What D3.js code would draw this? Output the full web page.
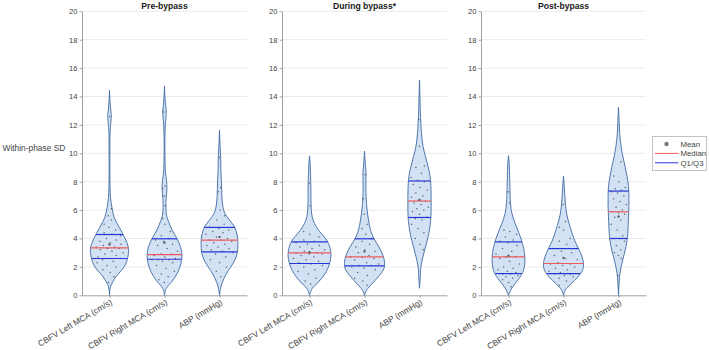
<!DOCTYPE html>
<html><head><meta charset="utf-8">
<script src="https://cdn.jsdelivr.net/npm/d3@7"></script>
<style>
body{margin:0;background:#fff}
svg{display:block}
text{font-family:"Liberation Sans",Arial,Helvetica,sans-serif}
</style>
</head><body>
<svg id="chart" width="709" height="350"></svg>
<script>
// ---------------- DATA ----------------
const phases = ["Pre-bypass", "During bypass*", "Post-bypass"];
const categories = ["CBFV Left MCA (cm/s)", "CBFV Right MCA (cm/s)", "ABP (mmHg)"];
const yTicks = [0, 2, 4, 6, 8, 10, 12, 14, 16, 18, 20];
const legendLabels = ["Mean", "Median", "Q1/Q3"];
const yLabel = "Within-phase SD";

// [Q1, median, Q3] per category
const quartilesPre  = [[2.59, 3.34, 4.28], [2.54, 2.87, 3.98], [3.06, 3.88, 4.78]];
const quartilesDur  = [[2.24, 2.99, 3.76], [2.07, 2.71, 3.98], [5.48, 6.64, 8.05]];
const quartilesPost = [[1.53, 2.71, 3.76], [1.53, 2.24, 3.29], [4.00, 5.88, 7.34]];

// kernel density profiles: [value, relative density]
const densPreLeft  = [[0,0],[0.6,0.05],[1.3,0.32],[2.0,0.73],[2.6,0.9],[3.3,0.95],[4.0,0.78],[4.8,0.48],[5.5,0.23],[6.2,0.12],[6.9,0.05],[7.5,0.03],[8.5,0.02],[10,0.02],[11.5,0.03],[12.1,0.06],[12.6,0.09],[13.2,0.05],[13.8,0.02],[14.45,0]];
const densPreRight = [[0,0],[0.47,0.08],[1.06,0.42],[1.65,0.67],[2.24,0.82],[2.82,0.87],[3.41,0.8],[4.0,0.62],[4.6,0.38],[5.2,0.2],[5.65,0.1],[6.2,0.07],[6.8,0.08],[7.5,0.12],[8.1,0.1],[8.6,0.05],[9.5,0.025],[11,0.02],[12.0,0.04],[12.9,0.09],[13.6,0.04],[14.2,0.015],[14.75,0]];
const densPreABP   = [[0,0],[0.59,0.07],[1.18,0.22],[1.76,0.45],[2.35,0.72],[2.94,0.88],[3.65,0.92],[4.24,0.88],[4.82,0.75],[5.3,0.5],[5.76,0.27],[6.24,0.17],[6.94,0.12],[7.9,0.1],[8.8,0.07],[9.7,0.06],[10.5,0.03],[11.65,0]];
const densDurLeft  = [[0,0],[0.47,0.13],[0.94,0.45],[1.53,0.78],[2.24,1.0],[2.94,1.07],[3.65,0.95],[4.12,0.73],[4.59,0.45],[5.06,0.25],[5.53,0.13],[6.24,0.08],[7.4,0.07],[8.6,0.05],[9.3,0.03],[9.82,0]];
const densDurRight = [[0,0],[0.35,0.1],[0.82,0.38],[1.29,0.68],[1.88,0.97],[2.35,1.0],[2.82,0.92],[3.41,0.72],[4.0,0.47],[4.59,0.3],[5.3,0.2],[6.0,0.13],[6.94,0.08],[8.1,0.07],[8.6,0.08],[9.06,0.05],[9.7,0.02],[10.16,0]];
const densDurABP   = [[0.49,0],[1.06,0.03],[2.0,0.07],[2.7,0.17],[3.41,0.3],[4.12,0.43],[4.82,0.52],[5.53,0.57],[6.24,0.58],[6.94,0.58],[7.65,0.57],[8.35,0.53],[9.06,0.43],[9.76,0.3],[10.47,0.18],[11.4,0.1],[12.1,0.07],[13.0,0.04],[14.2,0.02],[15.16,0]];
const densPostLeft = [[0,0],[0.59,0.2],[1.18,0.53],[1.76,0.75],[2.35,0.82],[2.94,0.8],[3.65,0.7],[4.35,0.53],[5.06,0.33],[5.76,0.17],[6.47,0.1],[7.65,0.07],[8.8,0.05],[9.4,0.03],[9.84,0]];
const densPostRight= [[0,0],[0.35,0.08],[0.82,0.38],[1.29,0.72],[1.76,0.95],[2.24,1.0],[2.7,0.93],[3.3,0.75],[3.88,0.55],[4.59,0.38],[5.3,0.23],[6.0,0.13],[6.94,0.07],[7.88,0.03],[8.4,0]];
const densPostABP  = [[0,0],[0.59,0.02],[1.29,0.05],[2.0,0.13],[2.7,0.25],[3.41,0.37],[4.12,0.45],[4.82,0.48],[5.53,0.5],[6.24,0.52],[6.94,0.52],[7.65,0.5],[8.35,0.43],[9.06,0.33],[9.76,0.22],[10.47,0.13],[11.4,0.06],[12.3,0.03],[13.24,0]];

// individual patient values
const ptsPreLeft  = [0.9,1.3,1.6,1.8,2.0,2.1,2.3,2.4,2.5,2.6,2.6,2.7,2.8,2.9,3.0,3.1,3.2,3.3,3.3,3.4,3.4,3.5,3.6,3.7,3.8,3.9,4.0,4.2,4.3,4.4,4.6,4.8,5.0,5.3,5.6,6.1,12.6];
const ptsPreRight = [0.9,1.1,1.3,1.5,1.7,1.9,2.1,2.3,2.4,2.5,2.5,2.5,2.6,2.7,2.8,2.9,2.9,3.1,3.3,3.5,3.6,3.8,3.9,4.0,4.2,4.5,5.0,5.4,6.3,7.0,7.5,7.7,12.9];
const ptsPreABP   = [1.3,1.7,2.0,2.3,2.5,2.7,2.9,3.0,3.1,3.2,3.3,3.4,3.5,3.6,3.7,3.8,3.9,3.9,4.0,4.1,4.3,4.4,4.5,4.6,4.7,4.8,5.0,5.3,5.6,6.0,7.3,7.6,9.7];
const ptsDurLeft  = [0.8,1.0,1.2,1.5,1.7,1.8,2.0,2.1,2.2,2.3,2.4,2.5,2.6,2.7,2.8,2.9,2.9,3.0,3.0,3.1,3.2,3.3,3.4,3.5,3.6,3.7,3.8,3.9,4.1,4.3,4.5,6.3,7.9];
const ptsDurRight = [0.7,1.0,1.2,1.4,1.6,1.8,1.9,2.0,2.1,2.1,2.2,2.3,2.5,2.6,2.7,2.7,2.8,3.0,3.1,3.2,3.4,3.6,3.8,4.0,4.3,4.7,5.0,5.7,6.8,8.5];
const ptsDurABP   = [3.2,3.6,4.0,4.4,4.7,5.0,5.3,5.4,5.5,5.7,5.9,6.0,6.1,6.2,6.4,6.5,6.6,6.7,6.9,7.0,7.2,7.4,7.6,7.8,8.0,8.1,8.3,8.6,9.0,9.1,10.5,12.4];
const ptsPostLeft = [0.6,0.9,1.1,1.2,1.3,1.4,1.5,1.5,1.6,1.7,1.8,1.9,2.0,2.2,2.4,2.6,2.7,2.7,2.9,3.1,3.3,3.5,3.7,3.8,3.9,4.1,4.3,4.5,4.6,6.5,7.3];
const ptsPostRight= [0.7,1.0,1.2,1.3,1.4,1.5,1.5,1.6,1.7,1.8,1.9,2.0,2.1,2.2,2.2,2.3,2.5,2.6,2.8,3.0,3.1,3.3,3.6,3.8,4.0,4.6,4.8,5.2,6.4];
const ptsPostABP  = [1.4,2.6,2.8,3.0,3.2,3.5,3.8,4.0,4.0,4.2,4.6,5.0,5.3,5.5,5.7,5.8,5.9,6.0,6.2,6.4,6.6,6.8,7.0,7.2,7.3,7.4,7.5,7.6,8.0,8.4,9.4];

// ---------------- STRUCTURE ----------------
const panels = [
  {title: phases[0], quart: quartilesPre,  dens: [densPreLeft, densPreRight, densPreABP],    pts: [ptsPreLeft, ptsPreRight, ptsPreABP]},
  {title: phases[1], quart: quartilesDur,  dens: [densDurLeft, densDurRight, densDurABP],    pts: [ptsDurLeft, ptsDurRight, ptsDurABP]},
  {title: phases[2], quart: quartilesPost, dens: [densPostLeft, densPostRight, densPostABP], pts: [ptsPostLeft, ptsPostRight, ptsPostABP]}
];

// ---------------- LAYOUT / STYLE ----------------
const panelLeft = [82, 282, 481];
const panelW = 165;
const yTop = 11.3, yBottom = 295.3;
const halfWidthUnits = 0.364; // density 1 -> fraction of category spacing
const C = {
  grid: "#ebebeb", axis: "#a0a0a0", tick: "#444", title: "#1a1a1a",
  fill: "#d2e2f4", edge: "#3f6aa3", median: "#f05a5a", quart: "#2834d6", pt: "#4a4a4a"
};

const svg = d3.select("#chart");
const y = d3.scaleLinear().domain([0, 20]).range([yBottom, yTop]);

function interp(dens, v) {
  if (v <= dens[0][0] || v >= dens[dens.length - 1][0]) return 0;
  for (let i = 1; i < dens.length; i++) {
    if (v <= dens[i][0]) {
      const a = dens[i - 1], b = dens[i];
      return a[1] + (b[1] - a[1]) * (v - a[0]) / (b[0] - a[0]);
    }
  }
  return 0;
}

// y label
svg.append("text").attr("x", 2.5).attr("y", 150.5)
  .attr("font-size", 8.4).attr("fill", C.tick).text(yLabel);

panels.forEach((p, pi) => {
  const x = d3.scaleLinear().domain([0.5, 3.5]).range([panelLeft[pi], panelLeft[pi] + panelW]);
  const w = d => (x(1 + halfWidthUnits * d) - x(1));
  const g = svg.append("g");

  // grid
  g.selectAll("line.grid").data(yTicks.filter(t => t > 0)).enter().append("line")
    .attr("x1", x(0.5)).attr("x2", x(3.5))
    .attr("y1", d => y(d)).attr("y2", d => y(d))
    .attr("stroke", C.grid).attr("stroke-width", 1);

  // y axis
  const ya = g.append("g").attr("transform", `translate(${x(0.5)},0)`)
    .call(d3.axisLeft(y).tickValues(yTicks).tickSize(2.5).tickPadding(2).tickSizeOuter(0));
  ya.select(".domain").attr("stroke", C.axis);
  ya.selectAll(".tick line").attr("stroke", C.axis);
  ya.selectAll(".tick text").attr("font-size", 7.6).attr("fill", C.tick)
    .attr("font-family", '"Liberation Sans",Arial,sans-serif');

  // x axis
  const xa = g.append("g").attr("transform", `translate(0,${y(0)})`)
    .call(d3.axisBottom(x).tickValues([1, 2, 3]).tickSize(2.5).tickSizeOuter(0).tickFormat(""));
  xa.select(".domain").attr("stroke", C.axis);
  xa.selectAll(".tick line").attr("stroke", C.axis);

  categories.forEach((c, ci) => {
    g.append("text")
      .attr("transform", `translate(${x(ci + 1) + 3.5},${y(0) + 8.5}) rotate(-30.5)`)
      .attr("text-anchor", "end").attr("font-size", 8.4).attr("fill", C.tick).text(c);
  });

  // title
  g.append("text").attr("x", x(2)).attr("y", 8.8).attr("text-anchor", "middle")
    .attr("font-size", 8.6).attr("font-weight", "bold").attr("fill", C.title).text(p.title);

  // violins
  p.dens.forEach((dens, ci) => {
    const cx = x(ci + 1);
    const area = d3.area()
      .y(d => y(d[0]))
      .x0(d => cx - w(d[1]))
      .x1(d => cx + w(d[1]))
      .curve(d3.curveCatmullRom.alpha(0.5));
    g.append("path").attr("d", area(dens))
      .attr("fill", C.fill).attr("stroke", C.edge).attr("stroke-width", 0.9);

    // points
    const vals = p.pts[ci];
    g.selectAll(null).data(vals).enter().append("circle")
      .attr("cx", (v, i) => {
        const f = ((i * 0.618034 + 0.31 + ci * 0.17 + pi * 0.29) % 1) * 2 - 1;
        return cx + f * 0.8 * w(interp(dens, v));
      })
      .attr("cy", v => y(v)).attr("r", 0.75).attr("fill", C.pt).attr("opacity", 0.85);

    // quartile & median lines
    const [q1, med, q3] = p.quart[ci];
    [q1, q3].forEach(q => {
      const hw = w(interp(dens, q));
      g.append("line").attr("x1", cx - hw).attr("x2", cx + hw)
        .attr("y1", y(q)).attr("y2", y(q)).attr("stroke", C.quart).attr("stroke-width", 1.2);
    });
    const hm = w(interp(dens, med));
    g.append("line").attr("x1", cx - hm).attr("x2", cx + hm)
      .attr("y1", y(med)).attr("y2", y(med)).attr("stroke", C.median).attr("stroke-width", 1.2);

    // mean
    g.append("circle").attr("cx", cx).attr("cy", y(d3.mean(vals)))
      .attr("r", 1.2).attr("fill", "#606060");
  });
});

// legend
const lg = svg.append("g").attr("transform", "translate(652.5,136.5)");
lg.append("rect").attr("width", 54).attr("height", 34)
  .attr("fill", "#fff").attr("stroke", "#b5b5b5").attr("stroke-width", 0.8);
const legendColors = ["#7a7a7a", C.median, C.quart];
legendLabels.forEach((l, i) => {
  const ly = 7.5 + i * 9.4;
  if (i === 0) {
    lg.append("circle").attr("cx", 14).attr("cy", ly).attr("r", 2.2).attr("fill", legendColors[i]);
  } else {
    lg.append("line").attr("x1", 2.5).attr("x2", 26).attr("y1", ly).attr("y2", ly)
      .attr("stroke", legendColors[i]).attr("stroke-width", 1);
  }
  lg.append("text").attr("x", 28).attr("y", ly + 2.8).attr("font-size", 7.8)
    .attr("fill", C.tick).text(l);
});
</script>
</body></html>
